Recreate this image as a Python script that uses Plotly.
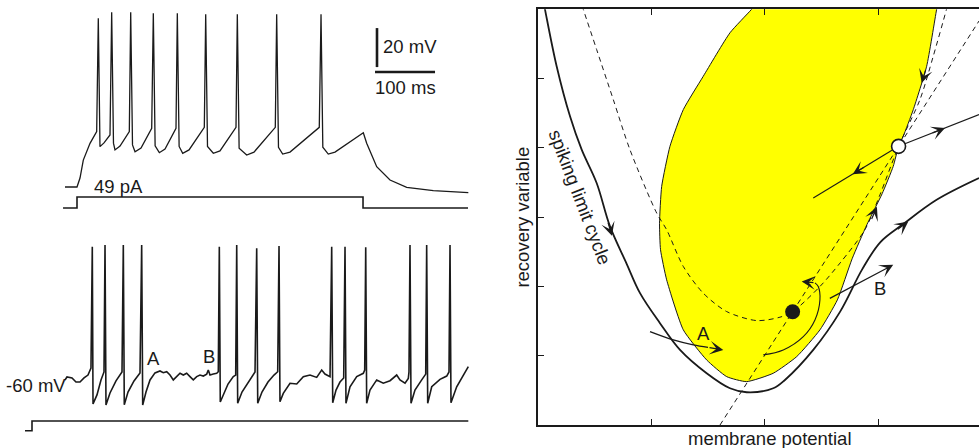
import plotly.graph_objects as go

FONT = "Liberation Sans, Arial, Helvetica, sans-serif"
INK = "#1a1a1a"

# ---------------- left panel: recorded traces (time in ms, voltage in mV, current in pA)
top_t = [-20, 0, 5, 10.5, 21.7, 32.8, 35.5, 38.3, 45, 55, 57.8, 60.8, 63.3, 71.7, 87.2,
         89.5, 92.5, 96.7, 106.7, 124.5, 127.2, 130.2, 137.2, 146.7, 165, 167.2, 170.2,
         176.2, 186.7, 212.2, 214.5, 217.5, 227.2, 238.3, 265, 267.2, 270.2, 282.8, 295,
         330.5, 332.8, 335.8, 342.8, 355, 403.8, 406.7, 409.7, 418.8, 430, 477.2, 482.8,
         499.5, 521.7, 549.5, 593.8, 652.2]
top_v = [-60, -60, -55.4, -46.2, -37.6, -31.6, 26.5, -39.3, -37.4, -33.3, 29.6, -37.5, -41,
         -39, -31.6, 29.6, -38.4, -41.9, -40, -29.9, 29.1, -38.9, -42.4, -40.5, -29.9, 29.1,
         -39.2, -42.7, -41, -29.4, 28.6, -39.2, -42.7, -41.5, -29.4, 28.6, -40.1, -43.6,
         -42.1, -29.4, 28.6, -39.6, -43.1, -42.1, -29.4, 28.6, -39.6, -43.1, -42.1, -32.2,
         -37.6, -49.6, -56.4, -60.2, -61.9, -62.9]

top_i_t = [-23.3, 0, 0, 476.7, 476.7, 651.7]
top_i = [0, 0, 49, 49, 0, 0]

bot_t = [-20, -16.7, -8.3, -1.7, 5, 11.7, 18.3, 23.3, 25.5, 26.7, 33.3, 40, 45, 46.7, 48.3,
         55, 65, 75, 77.2, 78.8, 85, 95, 105, 107.8, 109.5, 115, 121.7, 130, 138.3, 143.8,
         149.5, 155, 160.5, 166.2, 171.7, 177.2, 182.8, 188.3, 193.8, 199.5, 205, 210.5,
         216.2, 218.8, 221.7, 227.2, 232.8, 235.5, 237.2, 238.8, 245, 251.7, 260.5, 264.5,
         266.2, 267.8, 275, 285, 296.7, 299.5, 301.2, 308.3, 318.3, 328.3, 334.5, 336.7,
         338.3, 343.8, 355, 366.2, 377.2, 388.3, 399.5, 407.8, 413.3, 421.7, 424.5, 426.2,
         431.7, 438.3, 444.5, 446.7, 448.3, 455, 466.2, 477.2, 479.5, 481.2, 482.8, 488.3,
         499.5, 510.5, 521.7, 532.8, 538.3, 546.7, 552.2, 553.3, 555, 556.7, 563.3, 574.5,
         581.2, 582.8, 584.5, 591.2, 605, 616.2, 620, 621.7, 623.3, 632.8, 643.8, 652.2]
bot_v = [-57.4, -55.9, -56.4, -58.5, -58.5, -56.4, -54.9, -51.3, 10.9, -69.7, -65.1, -57.4,
         -53.3, 11.8, -70.3, -64.1, -57.9, -53.3, 11.8, -70.1, -63.6, -57.9, -53.8, 11.8,
         -70.3, -63.6, -57.4, -53.8, -52.8, -53.7, -53.2, -54.9, -57.4, -55.7, -54.0, -54.9,
         -54.0, -55.7, -57.4, -55.7, -54.9, -55.4, -54.4, -52.3, -54.9, -54.4, -54.0, -53.2,
         10.9, -68.7, -64.1, -59.5, -55.7, -54.9, 11.8, -69.4, -63.6, -59.0, -53.3, 10.1,
         -69.4, -63.6, -58.5, -54.9, -53.2, 11.3, -68.6, -64.3, -59.1, -59.5, -55.7, -54.9,
         -56.1, -52.3, -54.4, -55.7, 10.9, -69.1, -62.6, -58.5, -56.4, 10.9, -69.4, -60.9,
         -55.7, -54.0, -52.3, 10.6, -69.4, -62.6, -57.4, -59.1, -57.8, -54.9, -57.4, -59.1,
         -56.6, -53.3, 11.8, -69.4, -62.6, -57.4, -54.4, 11.8, -69.4, -60.9, -57.1, -55.4,
         -53.3, 11.8, -69.1, -60.9, -54.9, -50.6]

bot_i_t = [-86.7, -75, -75, 652.2]
bot_i = [0, 0, 43, 43]

# scale bars (on the upper voltage axis)
sb_v_t = [500, 500]
sb_v_v = [1.5, 21.5]      # 20 mV
sb_h_t = [496.7, 596.7]   # 100 ms
sb_h_v = [-1.0, -1.0]

# ---------------- right panel: phase plane (membrane potential u, recovery variable w)
# attraction domain of the resting state (bounded by the saddle's stable manifold)
basin_u = [2.043, 1.883, 1.692, 1.456, 1.280, 1.162, 1.089, 1.070, 1.079, 1.133, 1.280,
           1.486, 1.663, 1.839, 2.074, 2.281, 2.486, 2.640, 2.770, 2.900, 3.035, 3.133,
           3.180, 3.221, 3.310, 3.428, 3.516, 3.550]
basin_w = [6.3, 6.0, 5.661, 5.033, 4.552, 4.022, 3.444, 2.905, 2.529, 2.095, 1.373, 0.939,
           0.698, 0.626, 0.747, 0.987, 1.373, 1.806, 2.399, 2.890, 3.338, 3.733, 4.022,
           4.166, 4.552, 5.178, 6.0, 6.3]

cycle_u = [0.024, 0.059, 0.162, 0.280, 0.383, 0.515, 0.633, 0.780, 0.898, 1.074, 1.251,
           1.486, 1.692, 1.839, 2.074, 2.177, 2.427, 2.663, 2.860, 3.020, 3.221, 3.516, 3.890]
cycle_w = [6.3, 6.0, 5.178, 4.455, 3.974, 3.493, 2.866, 2.327, 1.903, 1.470, 1.084, 0.747,
           0.530, 0.473, 0.530, 0.650, 1.084, 1.633, 2.250, 2.640, 2.900, 3.251, 3.565]

unull_u = [0.338, 0.397, 0.515, 0.662, 0.809, 1.045, 1.133, 1.280, 1.456, 1.663, 1.928,
           2.133, 2.245, 2.486, 2.663, 2.883, 3.016, 3.180, 3.369, 3.486, 3.603, 3.651]
unull_w = [6.3, 6.0, 5.419, 4.697, 3.974, 3.059, 2.818, 2.288, 1.903, 1.637, 1.507, 1.556,
           1.635, 1.999, 2.337, 2.818, 3.324, 4.022, 4.697, 5.322, 6.0, 6.3]

wnull_u = [1.604, 3.890]
wnull_w = [0.0, 5.831]

node_u, node_w = [2.245], [1.635]
saddle_u, saddle_w = [3.180], [4.022]

unst_right_u = [3.180, 3.890]
unst_right_w = [4.022, 4.480]
unst_left_u = [3.180, 2.427]
unst_left_w = [4.022, 3.276]

loop_u = [1.986, 2.162, 2.339, 2.442, 2.486, 2.471, 2.442]
loop_w = [1.012, 1.084, 1.276, 1.517, 1.806, 1.999, 2.052]

pathA_u = [0.986, 1.192, 1.368, 1.498]
pathA_w = [1.348, 1.228, 1.156, 1.120]

# arrowheads: tip and tail positions in data units
arr_tip_u = [0.650, 3.266, 3.384, 2.989, 3.590, 2.775, 2.325, 1.633, 3.133]
arr_tip_w = [2.731, 2.938, 4.938, 3.150, 4.286, 3.620, 2.071, 1.084, 2.312]
arr_tail_u = [0.612, 3.160, 3.423, 2.937, 3.467, 2.888, 2.442, 1.498, 2.560]
arr_tail_w = [2.938, 2.808, 5.145, 2.951, 4.207, 3.733, 2.052, 1.120, 1.816]

fig = go.Figure()

def left(x, y, ya, w):
    fig.add_trace(go.Scatter(x=x, y=y, xaxis="x", yaxis=ya, mode="lines",
                             line=dict(color=INK, width=w), hoverinfo="skip"))

left(top_t, top_v, "y", 1.3)
left(top_i_t, top_i, "y3", 1.6)
left(bot_t, bot_v, "y4", 1.6)
left(bot_i_t, bot_i, "y5", 1.6)
left(sb_v_t, sb_v_v, "y", 2.6)
left(sb_h_t, sb_h_v, "y", 2.6)

def right(x, y, **kw):
    fig.add_trace(go.Scatter(x=x, y=y, xaxis="x2", yaxis="y2", hoverinfo="skip", **kw))

right(basin_u, basin_w, mode="lines", fill="toself", fillcolor="#ffff00",
      line=dict(color=INK, width=1, shape="spline", smoothing=0.5))
right(unull_u, unull_w, mode="lines",
      line=dict(color=INK, width=1, dash="5px,4px", shape="spline", smoothing=0.8))
right(wnull_u, wnull_w, mode="lines", line=dict(color=INK, width=1, dash="5px,4px"))
right(cycle_u, cycle_w, mode="lines",
      line=dict(color=INK, width=1.8, shape="spline", smoothing=1.0))
right(unst_right_u, unst_right_w, mode="lines", line=dict(color=INK, width=1.1))
right(unst_left_u, unst_left_w, mode="lines", line=dict(color=INK, width=1.1))
right(loop_u, loop_w, mode="lines", line=dict(color=INK, width=1.1, shape="spline"))
right(pathA_u, pathA_w, mode="lines", line=dict(color=INK, width=1.4, shape="spline"))
right(node_u, node_w, mode="markers", marker=dict(size=15, color=INK))
right(saddle_u, saddle_w, mode="markers",
      marker=dict(size=14, color="white", line=dict(color=INK, width=1.6)))

ann = []
for tu, tw, su, sw in zip(arr_tip_u, arr_tip_w, arr_tail_u, arr_tail_w):
    ann.append(dict(x=tu, y=tw, ax=su, ay=sw, xref="x2", yref="y2", axref="x2", ayref="y2",
                    text="", showarrow=True, arrowhead=3, arrowsize=1.9, arrowwidth=1.2,
                    arrowcolor=INK, standoff=0, startstandoff=0))

def label(text, x, y, xr, yr, xanchor="center", angle=0, size=18.5):
    ann.append(dict(text=text, x=x, y=y, xref=xr, yref=yr, showarrow=False,
                    xanchor=xanchor, yanchor="middle", textangle=angle,
                    font=dict(family=FONT, size=size, color=INK)))

label("20 mV", 506.7, 11.8, "x", "y", xanchor="left")
label("100 ms", 546.7, -9.2, "x", "y")
label("49 pA", 24.5, 95, "x", "y3", xanchor="left")
label("-60 mV", -15, -60, "x", "y4", xanchor="right")
label("A", 128.3, -46.3, "x", "y4")
label("B", 220.5, -45.5, "x", "y4")
label("A", 1.456, 1.325, "x2", "y2")
label("B", 3.016, 1.975, "x2", "y2")
label("spiking limit cycle", 0.368, 3.28, "x2", "y2", angle=69)
# x-axis title of the phase plane (centred on the visible part of the axis)
label("membrane potential", 2.049, 0.021, "x2", "paper")

hidden = dict(visible=False, showgrid=False, zeroline=False)
fig.update_layout(
    width=979, height=448, margin=dict(l=0, r=0, t=0, b=0),
    paper_bgcolor="white", plot_bgcolor="rgba(0,0,0,0)", showlegend=False,
    annotations=ann,
    xaxis=dict(domain=[0, 1], range=[-128.33, 1503.33], anchor="y", **hidden),
    yaxis=dict(domain=[0, 1], range=[-193.85, 35.90], anchor="x", **hidden),
    yaxis3=dict(overlaying="y", range=[-1069.1, 926.5], anchor="x", **hidden),
    yaxis4=dict(overlaying="y", range=[-92.31, 137.44], anchor="x", **hidden),
    yaxis5=dict(overlaying="y", range=[-77.1, 1918.6], anchor="x", **hidden),
    xaxis2=dict(domain=[0.54984, 1], range=[0, 3.890], anchor="y2",
                showline=True, linecolor=INK, linewidth=1.5, mirror="ticks",
                ticks="inside", ticklen=6, tickwidth=1, tickcolor=INK,
                tickvals=[1, 2, 3], showticklabels=False, showgrid=False, zeroline=False,
                automargin=False),
    yaxis2=dict(domain=[0.05134, 0.97924], range=[0, 6.0], anchor="x2",
                showline=True, linecolor=INK, linewidth=1.5, mirror=False,
                ticks="inside", ticklen=6, tickwidth=1, tickcolor=INK,
                tickvals=[1, 2, 3, 4, 5], showticklabels=False, showgrid=False, zeroline=False,
                title=dict(text="recovery variable", standoff=2,
                           font=dict(family=FONT, size=18.5, color=INK)),
                automargin=False),
)

fig.write_html("out.html", config={"displayModeBar": False},
               post_script="document.body.style.margin='0px';document.body.style.overflow='hidden';")
